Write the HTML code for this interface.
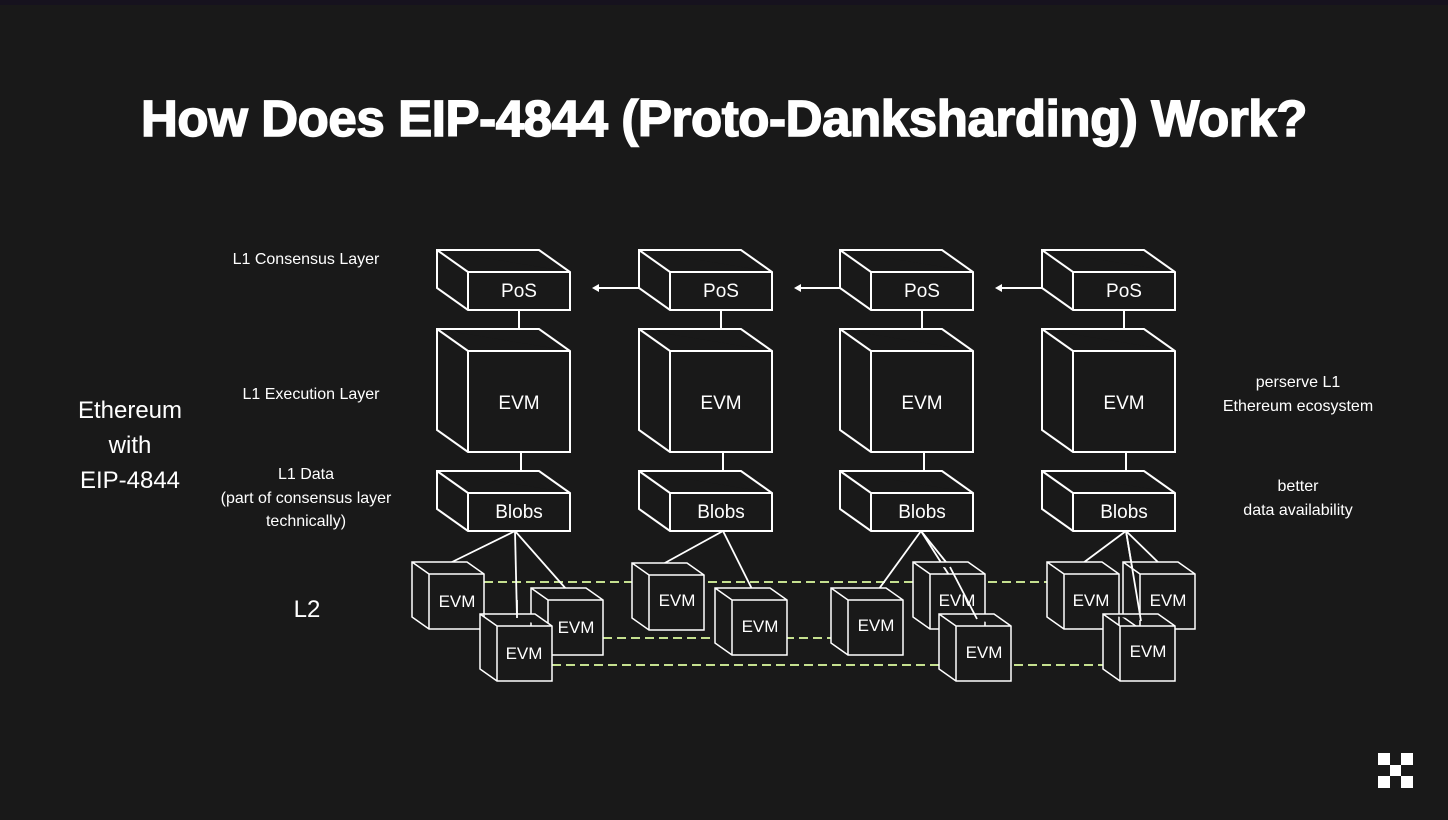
<!DOCTYPE html>
<html><head><style>
html,body{margin:0;padding:0;background:#191919;}
body{width:1448px;height:820px;overflow:hidden;position:relative;font-family:"Liberation Sans",sans-serif;color:#fff;}
.t{position:absolute;white-space:nowrap;}
</style></head><body>
<div style="position:absolute;left:0;top:0;width:1448px;height:5px;background:#16121e"></div>
<div class="t" style="left:0;width:1448px;text-align:center;top:89px;font-size:51px;font-weight:900;letter-spacing:-0.4px;-webkit-text-stroke:1.5px #fff;">How Does EIP-4844 (Proto-Danksharding) Work?</div>
<svg width="1448" height="820" style="position:absolute;left:0;top:0" font-family="Liberation Sans, sans-serif">
<defs>
<g id="pos"><path d="M0,0 L102,0 L133,22 L133,60 L31,60 L0,38 Z M0,0 L31,22 L133,22 M31,22 L31,60" fill="#191919" stroke="#fff" stroke-width="2"/></g>
<g id="evm"><path d="M0,0 L102,0 L133,22 L133,123 L31,123 L0,101 Z M0,0 L31,22 L133,22 M31,22 L31,123" fill="#191919" stroke="#fff" stroke-width="2"/></g>
<g id="sm"><path d="M0,0 L55,0 L72,12 L72,67 L17,67 L0,55 Z M0,0 L17,12 L72,12 M17,12 L17,67" fill="#191919" stroke="#fff" stroke-width="1.5"/></g>
</defs>
<g stroke="#fff" stroke-width="2">
<line x1="519" y1="310" x2="519" y2="338"/><line x1="521" y1="452" x2="521" y2="479"/>
<line x1="721" y1="310" x2="721" y2="338"/><line x1="723" y1="452" x2="723" y2="479"/>
<line x1="922" y1="310" x2="922" y2="338"/><line x1="924" y1="452" x2="924" y2="479"/>
<line x1="1124" y1="310" x2="1124" y2="338"/><line x1="1126" y1="452" x2="1126" y2="479"/>
<line x1="639" y1="288" x2="597" y2="288"/><line x1="840" y1="288" x2="799" y2="288"/><line x1="1042" y1="288" x2="1000" y2="288"/>
</g>
<g fill="#fff"><path d="M592,288 L599,284 L599,292Z"/><path d="M794,288 L801,284 L801,292Z"/><path d="M995,288 L1002,284 L1002,292Z"/></g>
<use href="#pos" x="437" y="250"/><use href="#pos" x="639" y="250"/><use href="#pos" x="840" y="250"/><use href="#pos" x="1042" y="250"/>
<use href="#evm" x="437" y="329"/><use href="#evm" x="639" y="329"/><use href="#evm" x="840" y="329"/><use href="#evm" x="1042" y="329"/>
<use href="#pos" x="437" y="471"/><use href="#pos" x="639" y="471"/><use href="#pos" x="840" y="471"/><use href="#pos" x="1042" y="471"/>
<g fill="#fff" font-size="19" text-anchor="middle">
<text x="519" y="297">PoS</text><text x="721" y="297">PoS</text><text x="922" y="297">PoS</text><text x="1124" y="297">PoS</text>
<text x="519" y="409">EVM</text><text x="721" y="409">EVM</text><text x="922" y="409">EVM</text><text x="1124" y="409">EVM</text>
<text x="519" y="518">Blobs</text><text x="721" y="518">Blobs</text><text x="922" y="518">Blobs</text><text x="1124" y="518">Blobs</text>
</g>
<g stroke="#c5e08f" stroke-width="2" stroke-dasharray="9,5">
<line x1="484" y1="582" x2="1063" y2="582"/>
<line x1="603" y1="638" x2="848" y2="638"/>
<line x1="552" y1="665" x2="1120" y2="665"/>
</g>
<g stroke="#fff" stroke-width="1.8">
<line x1="515" y1="531" x2="450" y2="563"/><line x1="515" y1="531" x2="517" y2="618"/><line x1="515" y1="531" x2="567" y2="590"/>
<line x1="723" y1="531" x2="663" y2="564"/><line x1="723" y1="531" x2="753" y2="591"/>
<line x1="921" y1="531" x2="876" y2="593"/><line x1="921" y1="531" x2="950" y2="567"/><line x1="921" y1="531" x2="977" y2="619"/>
<line x1="1126" y1="531" x2="1083" y2="563"/><line x1="1126" y1="531" x2="1163" y2="567"/><line x1="1126" y1="531" x2="1141" y2="621"/>
</g>
<use href="#sm" x="412" y="562"/><use href="#sm" x="531" y="588"/><use href="#sm" x="632" y="563"/><use href="#sm" x="715" y="588"/>
<use href="#sm" x="831" y="588"/><use href="#sm" x="913" y="562"/><use href="#sm" x="1047" y="562"/><use href="#sm" x="1123" y="562"/>
<use href="#sm" x="480" y="614"/><use href="#sm" x="939" y="614"/><use href="#sm" x="1103" y="614"/>
<g stroke="#fff" stroke-width="1.8">
<line x1="517" y1="600" x2="517" y2="618"/><line x1="950" y1="567" x2="977" y2="619"/><line x1="1126" y1="531" x2="1141" y2="621"/>
</g>
<g fill="#fff" font-size="17" text-anchor="middle">
<text x="457" y="607">EVM</text><text x="576" y="633">EVM</text><text x="524" y="659">EVM</text>
<text x="677" y="606">EVM</text><text x="760" y="632">EVM</text>
<text x="876" y="631">EVM</text><text x="957" y="606">EVM</text><text x="984" y="658">EVM</text>
<text x="1091" y="606">EVM</text><text x="1168" y="606">EVM</text><text x="1148" y="657">EVM</text>
</g>
<g fill="#fff" font-size="16" text-anchor="middle">
<text x="306" y="264">L1 Consensus Layer</text>
<text x="311" y="399">L1 Execution Layer</text>
<text x="306" y="479">L1 Data</text>
<text x="306" y="503">(part of consensus layer</text>
<text x="306" y="526">technically)</text>
<text x="1298" y="387">perserve L1</text>
<text x="1298" y="411">Ethereum ecosystem</text>
<text x="1298" y="491">better</text>
<text x="1298" y="515">data availability</text>
</g>
<g fill="#fff" font-size="24" text-anchor="middle">
<text x="130" y="418">Ethereum</text><text x="130" y="453">with</text><text x="130" y="488">EIP-4844</text>
<text x="307" y="617">L2</text>
</g>
<g fill="#fff"><rect x="1378" y="753" width="12" height="12"/><rect x="1401" y="753" width="12" height="12"/><rect x="1390" y="765" width="11" height="11"/><rect x="1378" y="776" width="12" height="12"/><rect x="1401" y="776" width="12" height="12"/></g>
</svg>
</body></html>
